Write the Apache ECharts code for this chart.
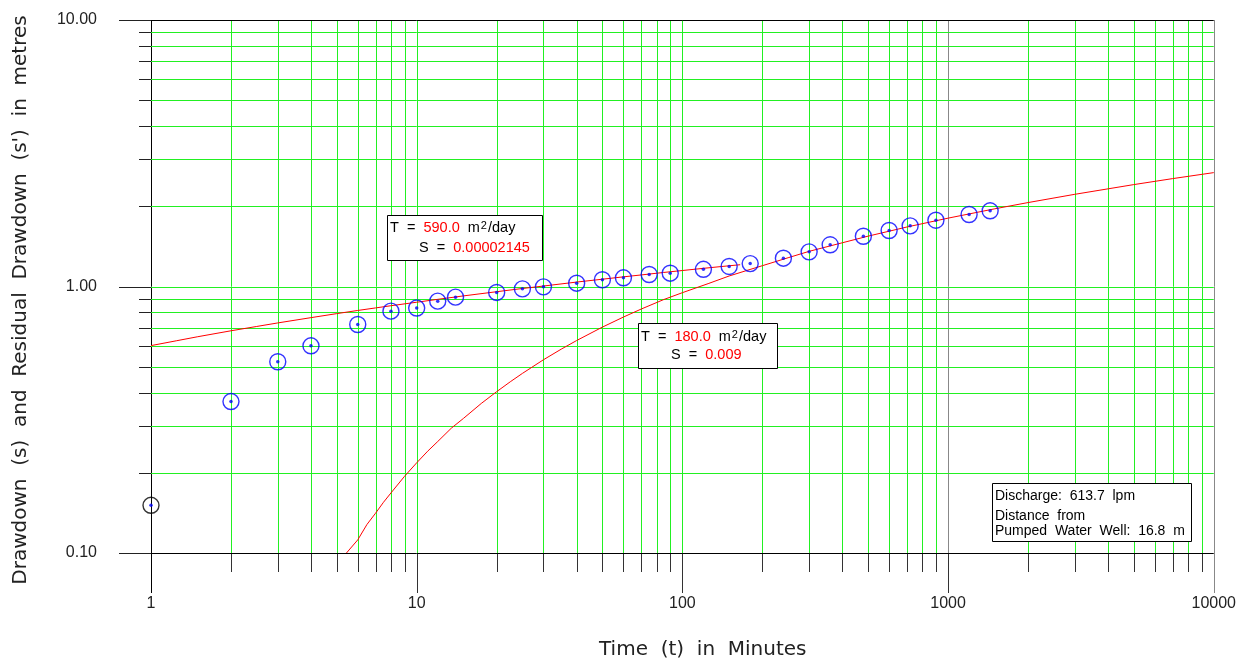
<!DOCTYPE html>
<html>
<head>
<meta charset="utf-8">
<script src="https://cdn.jsdelivr.net/npm/echarts@6/dist/echarts.min.js"></script>
<style>
html,body{margin:0;padding:0;background:#fff;}
#chart{width:1239px;height:667px;}
</style>
</head>
<body>
<div id="chart"></div>
<script>
// ---- data ----
const times = [1, 2, 3, 4, 6, 8, 10, 12, 14, 20, 25, 30, 40, 50, 60, 75, 90, 120, 150, 180, 240, 300, 360, 480, 600, 720, 900, 1200, 1440];
const drawdown = [0.151, 0.370, 0.522, 0.599, 0.720, 0.808, 0.830, 0.881, 0.912, 0.950, 0.980, 0.997, 1.029, 1.060, 1.078, 1.109, 1.122, 1.160, 1.189, 1.219, 1.277, 1.349, 1.434, 1.544, 1.622, 1.689, 1.773, 1.863, 1.923];

// fitted curve T = 590.0, S = 0.00002145
const fit1Times = [1, 1.25, 1.5, 2, 2.5, 3, 4, 5, 6, 7, 8, 10, 12, 15, 20, 25, 30, 40, 50, 60, 70, 85, 100, 120, 140, 165];
const fit1Values = [0.600, 0.626, 0.648, 0.682, 0.708, 0.730, 0.764, 0.791, 0.813, 0.831, 0.847, 0.873, 0.895, 0.922, 0.956, 0.983, 1.004, 1.039, 1.065, 1.087, 1.105, 1.129, 1.148, 1.170, 1.188, 1.207];

// fitted curve T = 180.0, S = 0.009
const fit2Times = [5.44, 6, 6.5, 7, 7.5, 8, 9, 10, 11, 12, 13.5, 15, 17.5, 20, 22.5, 25, 30, 35, 40, 50, 60, 70, 85, 100, 125, 150, 175, 200, 250, 300, 400, 500, 700, 1000, 1500, 2000, 3000, 5000, 7000, 10000];
const fit2Values = [0.100, 0.112, 0.128, 0.141, 0.155, 0.168, 0.194, 0.218, 0.241, 0.262, 0.294, 0.320, 0.364, 0.403, 0.439, 0.472, 0.531, 0.582, 0.627, 0.704, 0.768, 0.823, 0.893, 0.948, 1.025, 1.095, 1.149, 1.197, 1.282, 1.355, 1.459, 1.545, 1.672, 1.805, 1.957, 2.065, 2.218, 2.412, 2.540, 2.675];

// axis ranges and grid / tick values
const X_MIN = 1, X_MAX = 10000;
const Y_MIN = 0.1, Y_MAX = 10;
const xGridValues = [1, 2, 3, 4, 5, 6, 7, 8, 9, 10, 20, 30, 40, 50, 60, 70, 80, 90, 100, 200, 300, 400, 500, 600, 700, 800, 900, 1000, 2000, 3000, 4000, 5000, 6000, 7000, 8000, 9000, 10000];
const yGridValues = [0.1, 0.2, 0.3, 0.4, 0.5, 0.6, 0.7, 0.8, 0.9, 1, 2, 3, 4, 5, 6, 7, 8, 9, 10];

const GREEN = '#22f022';
const FONT = 'Liberation Sans';
const TITLE_FONT = 'DejaVu Sans';

function isMajor(v) {
  const l = Math.log10(v);
  return Math.abs(l - Math.round(l)) < 1e-9;
}

function renderXGrid(params, api) {
  const v = api.value(0);
  const top = api.coord([v, Y_MAX]);
  const bot = api.coord([v, Y_MIN]);
  const x = Math.round(bot[0]) + 0.5;
  const major = isMajor(v);
  let color = GREEN;
  if (v === X_MIN) color = '#000';
  else if (v === 1000 || v === X_MAX) color = '#888';
  return {
    type: 'group',
    children: [
      {type: 'line', shape: {x1: x, y1: top[1], x2: x, y2: bot[1]}, style: {stroke: color, lineWidth: 1}},
      {type: 'line', shape: {x1: x, y1: bot[1], x2: x, y2: bot[1] + (major ? 40 : 19)},
        style: {stroke: (v === X_MIN ? '#000' : (v === X_MAX ? '#888' : '#333')), lineWidth: 1}}
    ]
  };
}

function renderYGrid(params, api) {
  const v = api.value(1);
  const left = api.coord([X_MIN, v]);
  const right = api.coord([X_MAX, v]);
  const y = Math.round(left[1]) + 0.5;
  const major = isMajor(v);
  const color = (v === Y_MIN || v === Y_MAX) ? '#000' : GREEN;
  return {
    type: 'group',
    children: [
      {type: 'line', shape: {x1: left[0], y1: y, x2: right[0], y2: y}, style: {stroke: color, lineWidth: 1}},
      {type: 'line', shape: {x1: left[0] - (major ? 32 : 12), y1: y, x2: left[0], y2: y}, style: {stroke: '#222', lineWidth: 1}}
    ]
  };
}

const chart = echarts.init(document.getElementById('chart'), null, {renderer: 'canvas'});

const bt = {fontFamily: FONT, fontSize: 14.5, fill: '#000', lineHeight: 16};
const rt = {fontFamily: FONT, fontSize: 14.5, fill: '#ff0000', lineHeight: 16};
const sup = {fontFamily: FONT, fontSize: 11, fill: '#000', lineHeight: 16, verticalAlign: 'top', padding: [0, 1, 0, 1]};
const boxRich = {b: bt, r: rt, s: sup};

chart.setOption({
  animation: false,
  backgroundColor: '#fff',
  grid: {left: 151, right: 24, top: 20, bottom: 114, containLabel: false},
  xAxis: {
    type: 'log', logBase: 10, min: X_MIN, max: X_MAX,
    axisLine: {show: false}, axisTick: {show: false}, splitLine: {show: false},
    axisLabel: {show: true, margin: 43, fontFamily: FONT, fontSize: 16, color: '#222',
      showMinLabel: true, showMaxLabel: true,
      formatter: v => String(Math.round(v))}
  },
  yAxis: {
    type: 'log', logBase: 10, min: Y_MIN, max: Y_MAX,
    axisLine: {show: false}, axisTick: {show: false}, splitLine: {show: false},
    axisLabel: {show: true, margin: 54, fontFamily: FONT, fontSize: 16, color: '#222',
      showMinLabel: true, showMaxLabel: true,
      formatter: v => v.toFixed(2)}
  },
  series: [
    {
      type: 'custom', name: 'xgrid', coordinateSystem: 'cartesian2d', clip: false, silent: true, z: 1,
      encode: {x: 0, y: 1},
      data: xGridValues.map(v => [v, 1]),
      renderItem: renderXGrid
    },
    {
      type: 'custom', name: 'ygrid', coordinateSystem: 'cartesian2d', clip: false, silent: true, z: 1,
      encode: {x: 0, y: 1},
      data: yGridValues.map(v => [1, v]),
      renderItem: renderYGrid
    },
    {
      type: 'line', name: 'fit1', z: 3, showSymbol: false, smooth: false,
      lineStyle: {color: '#ff0000', width: 1},
      data: fit1Times.map((t, i) => [t, fit1Values[i]])
    },
    {
      type: 'line', name: 'fit2', z: 3, showSymbol: false, smooth: false,
      lineStyle: {color: '#ff0000', width: 1},
      data: fit2Times.map((t, i) => [t, fit2Values[i]])
    },
    {
      type: 'scatter', name: 'obs', z: 4, symbol: 'circle', symbolSize: 16,
      itemStyle: {color: 'rgba(255,255,255,0)', borderColor: '#0000ff', borderWidth: 1.4},
      data: times.map((t, i) => i === 0
        ? {value: [t, drawdown[i]], itemStyle: {borderColor: '#000'}}
        : [t, drawdown[i]])
    },
    {
      type: 'scatter', name: 'obsDot', z: 5, symbol: 'circle', symbolSize: 3.5,
      itemStyle: {color: '#0000ff'},
      data: times.map((t, i) => [t, drawdown[i]])
    }
  ],
  graphic: [
    {type: 'text', x: 599, y: 650, z: 10,
      style: {text: 'Time  (t)  in  Minutes', fontFamily: TITLE_FONT, fontSize: 20, fill: '#222',
        textAlign: 'left', textVerticalAlign: 'middle'}},
    {type: 'text', x: 11, y: 300, rotation: Math.PI / 2, z: 10,
      style: {text: "Drawdown  (s)  and  Residual  Drawdown  (s')  in  metres", fontFamily: TITLE_FONT, fontSize: 20, fill: '#222',
        textAlign: 'center', textVerticalAlign: 'top'}},
    // box 1
    {type: 'rect', z: 10, shape: {x: 387.5, y: 215.5, width: 155, height: 45}, style: {fill: '#fff', stroke: '#000', lineWidth: 1}},
    {type: 'text', z: 11, x: 390, y: 228,
      style: {text: '{b|T  =  }{r|590.0}{b|  m}{s|2}{b|/day}', textVerticalAlign: 'middle', rich: boxRich}},
    {type: 'text', z: 11, x: 419, y: 248,
      style: {text: '{b|S  =  }{r|0.00002145}', textVerticalAlign: 'middle', rich: boxRich}},
    // box 2
    {type: 'rect', z: 10, shape: {x: 638.5, y: 323.5, width: 139, height: 45}, style: {fill: '#fff', stroke: '#000', lineWidth: 1}},
    {type: 'text', z: 11, x: 641, y: 337,
      style: {text: '{b|T  =  }{r|180.0}{b|  m}{s|2}{b|/day}', textVerticalAlign: 'middle', rich: boxRich}},
    {type: 'text', z: 11, x: 671, y: 355,
      style: {text: '{b|S  =  }{r|0.009}', textVerticalAlign: 'middle', rich: boxRich}},
    // box 3
    {type: 'rect', z: 10, shape: {x: 992.5, y: 483.5, width: 199, height: 58}, style: {fill: '#fff', stroke: '#000', lineWidth: 1}},
    {type: 'text', z: 11, x: 995, y: 496, style: {text: 'Discharge:  613.7  lpm', fontFamily: FONT, fontSize: 14, fill: '#000', textVerticalAlign: 'middle'}},
    {type: 'text', z: 11, x: 995, y: 516, style: {text: 'Distance  from', fontFamily: FONT, fontSize: 14, fill: '#000', textVerticalAlign: 'middle'}},
    {type: 'text', z: 11, x: 995, y: 531, style: {text: 'Pumped  Water  Well:  16.8  m', fontFamily: FONT, fontSize: 14, fill: '#000', textVerticalAlign: 'middle'}}
  ]
});
</script>
</body>
</html>
